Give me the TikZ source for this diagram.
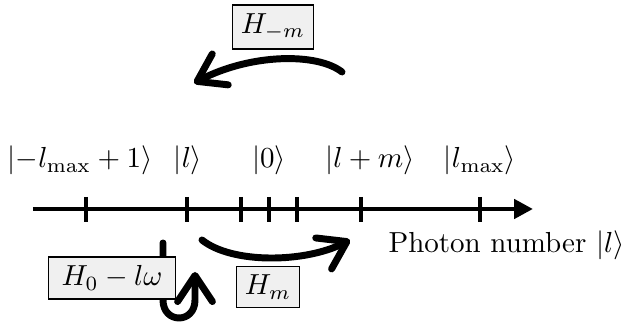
\documentclass[tikz,border=0pt]{standalone}
\usepackage{amsmath,amssymb}
\usetikzlibrary{arrows.meta,positioning}

\begin{document}
\begin{tikzpicture}[x=0.345pt,y=-0.345pt,
      axis/.style={line width=1.7pt,-{Triangle[length=6.5pt,width=6.5pt]}},
      tick/.style={line width=1.6pt},
      ket/.style={anchor=base,inner sep=0pt},
      hbox/.style={draw=black,line width=0.4pt,fill=gray!12,inner sep=3pt,minimum height=14pt},
      bendarrow/.style={line width=2.4pt,line cap=round,
                 -{Straight Barb[length=9pt,width=12pt,line cap=round,round]}}]
      \useasboundingbox (0,0) rectangle (621,324);
      % Axis
      \coordinate (start) at (33,209);
      \coordinate (end) at (533,209);
      \draw[axis] (start) -- (end);
      % Ticks
      \foreach \x in {86,187,241,269,297,361,480}
        \draw[tick] (\x,197) -- (\x,222);
      % Kets
      \node[ket] (kmin) at (80,168) {$|{-l_{\max}}+1\rangle$};
      \node[ket] (kl) at (188,168) {$|l\rangle$};
      \node[ket] (kzero) at (269,168) {$|0\rangle$};
      \node[ket] (klm) at (370,168) {$|l+m\rangle$};
      \node[ket] (kmax) at (480,168) {$|l_{\max}\rangle$};
      \node[ket,anchor=base west] (photon) at (388,253) {Photon number $|l\rangle$};
      % Hopping up
      \coordinate (up1) at (202,240);
      \coordinate (up2) at (350,240);
      \draw[bendarrow] (up1) .. controls (232,264) and (305,263) .. (up2);
      \node[hbox] (hm) at (268,287) {$H_m$};
      % Hopping down
      \coordinate (dn1) at (342,72);
      \coordinate (dn2) at (194,83);
      \draw[bendarrow] (dn1) .. controls (318,53) and (252,53) .. (dn2);
      \node[hbox] (hmm) at (273,27) {$H_{-m}$};
      % Self loop
      \coordinate (loop1) at (163,243);
      \coordinate (loop2) at (195,272);
      \draw[bendarrow] (loop1) -- (163,300) .. controls (163,324) and (195,324) .. (195,300) -- (loop2);
      \node[hbox,minimum width=44pt] (hzero) at (112,278) {$H_0-l\omega$};
\end{tikzpicture}
\end{document}
